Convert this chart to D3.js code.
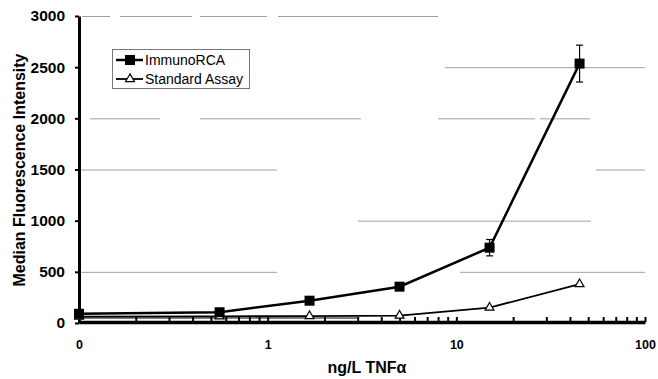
<!DOCTYPE html>
<html>
<head>
<meta charset="utf-8">
<script src="https://cdn.jsdelivr.net/npm/d3@7"></script>
<style>
  body { margin: 0; background: #fff; }
  svg { display: block; font-family: Arial, "Liberation Sans", sans-serif; }
</style>
</head>
<body>
<svg></svg>
<script>
(() => {
    // TNFα concentration (ng/L), 0 is drawn at the left edge of the log axis
    const concentrations = [0, 0.556, 1.667, 5, 15, 45];
    const immunoRCA = [90, 105, 218, 355, 736, 2535];
    const immunoErr = [0, 0, 0, 0, 80, 180];
    const standardAssay = [62, 65, 68, 72, 150, 380];
    const yTicks = [0, 500, 1000, 1500, 2000, 2500, 3000];
    const gridTicks = [500, 1000, 1500, 2000, 2500, 3000];
    const xLabels = ["0", "1", "10", "100"];
    const seriesNames = ["ImmunoRCA", "Standard Assay"];

    const width = 658;
    const height = 379;

    const xScale = d3.scaleLog()
        .domain([0.1, 100])
        .range([79, 645]);

    const yScale = d3.scaleLinear()
        .domain([0, 3000])
        .range([323, 16]);

    const xPos = c => xScale(c === 0 ? 0.1 : c);

    const svg = d3.select("svg")
        .attr("width", width)
        .attr("height", height);

    // grid lines, broken up like the scanned original (500 .. 3000)
    const gridDash = ["198 183 185 100", "0 279 233 200", "198 319 49 100",
        "0 11 70 40 161 77 97 5 50 200", "0 366 200 100", "0 3 28 10 72 8 67 11 160 300"];
    svg.append("g")
        .selectAll("line")
        .data(gridTicks)
        .enter()
        .append("line")
        .attr("x1", xScale(0.1))
        .attr("x2", xScale(100))
        .attr("y1", d => yScale(d) + 0.5)
        .attr("y2", d => yScale(d) + 0.5)
        .attr("stroke", "#a0a0a0")
        .attr("stroke-width", 1)
        .attr("stroke-dasharray", (d, i) => gridDash[i]);

    // y axis
    const yAxis = svg.append("g")
        .attr("transform", `translate(${xScale(0.1)},0)`)
        .call(d3.axisLeft(yScale)
            .tickValues(yTicks)
            .tickFormat(d3.format("d"))
            .tickSizeInner(4)
            .tickSizeOuter(0)
            .tickPadding(10));
    yAxis.select(".domain").attr("stroke-width", 3);
    yAxis.selectAll(".tick line").attr("stroke-width", 2);
    yAxis.selectAll("text")
        .attr("font-size", 15.5)
        .attr("font-weight", "bold")
        .attr("fill", "#000");

    // x axis, ticks pointing inward
    const isDecade = d => Math.abs(Math.log10(d) - Math.round(Math.log10(d))) < 1e-6;
    const xAxis = svg.append("g")
        .attr("transform", `translate(0,${yScale(0) - 1})`)
        .call(d3.axisBottom(xScale)
            .tickValues(xScale.ticks())
            .tickSizeInner(-5)
            .tickSizeOuter(0)
            .tickPadding(18)
            .tickFormat(d => isDecade(d) ? xLabels[Math.round(Math.log10(d)) + 1] : ""));
    xAxis.select(".domain").attr("stroke-width", 3.5);
    xAxis.selectAll(".tick line").attr("stroke-width", 2);
    xAxis.selectAll("text")
        .attr("font-size", 12.5)
        .attr("font-weight", "bold")
        .attr("fill", "#000");

    // doubled axis edge on the left part
    svg.append("line")
        .attr("x1", xScale(0.1))
        .attr("x2", xScale(3))
        .attr("y1", yScale(0) - 5)
        .attr("y2", yScale(0) - 5)
        .attr("stroke", "#000")
        .attr("stroke-width", 1.2);

    const line = d3.line()
        .x((d, i) => xPos(concentrations[i]))
        .y(d => yScale(d));

    // Standard Assay
    svg.append("path")
        .datum(standardAssay)
        .attr("fill", "none")
        .attr("stroke", "#000")
        .attr("stroke-width", 1.8)
        .attr("d", line);

    const tri = d3.symbol().type(d3.symbolTriangle).size(34);
    svg.append("g")
        .selectAll("path")
        .data(standardAssay)
        .enter()
        .append("path")
        .attr("d", tri)
        .attr("transform", (d, i) => `translate(${xPos(concentrations[i])},${yScale(d)})`)
        .attr("fill", "#fff")
        .attr("stroke", "#000")
        .attr("stroke-width", 1.2);

    // ImmunoRCA
    svg.append("path")
        .datum(immunoRCA)
        .attr("fill", "none")
        .attr("stroke", "#000")
        .attr("stroke-width", 2.5)
        .attr("d", line);

    const bars = svg.append("g")
        .selectAll("g")
        .data(immunoRCA.map((v, i) => ({ x: concentrations[i], v, e: immunoErr[i] })).filter(d => d.e > 0))
        .enter()
        .append("g")
        .attr("stroke", "#000")
        .attr("stroke-width", 1.2);
    bars.append("line")
        .attr("x1", d => xPos(d.x)).attr("x2", d => xPos(d.x))
        .attr("y1", d => yScale(d.v + d.e)).attr("y2", d => yScale(d.v - d.e));
    bars.append("line")
        .attr("x1", d => xPos(d.x) - 3.5).attr("x2", d => xPos(d.x) + 3.5)
        .attr("y1", d => yScale(d.v + d.e)).attr("y2", d => yScale(d.v + d.e));
    bars.append("line")
        .attr("x1", d => xPos(d.x) - 3.5).attr("x2", d => xPos(d.x) + 3.5)
        .attr("y1", d => yScale(d.v - d.e)).attr("y2", d => yScale(d.v - d.e));

    svg.append("g")
        .selectAll("rect")
        .data(immunoRCA)
        .enter()
        .append("rect")
        .attr("x", (d, i) => xPos(concentrations[i]) - 5)
        .attr("y", d => yScale(d) - 5)
        .attr("width", 10)
        .attr("height", 10)
        .attr("fill", "#000");

    // legend
    const legend = svg.append("g").attr("transform", "translate(112,49)");
    legend.append("rect")
        .attr("x", 0.5).attr("y", 0.5)
        .attr("width", 137).attr("height", 39)
        .attr("fill", "#fff")
        .attr("stroke", "#777")
        .attr("stroke-width", 1);
    seriesNames.forEach((name, i) => {
        const y = 11 + i * 19;
        legend.append("line")
            .attr("x1", 4).attr("x2", 31)
            .attr("y1", y).attr("y2", y)
            .attr("stroke", "#000")
            .attr("stroke-width", i === 0 ? 2.5 : 1.8);
        if (i === 0) {
            legend.append("rect")
                .attr("x", 13).attr("y", y - 5)
                .attr("width", 10).attr("height", 10)
                .attr("fill", "#000");
        } else {
            legend.append("path")
                .attr("d", tri)
                .attr("transform", `translate(18,${y})`)
                .attr("fill", "#fff")
                .attr("stroke", "#000")
                .attr("stroke-width", 1.2);
        }
        legend.append("text")
            .attr("x", 33)
            .attr("y", y)
            .attr("dy", "0.35em")
            .attr("font-size", 14)
            .attr("fill", "#000")
            .text(name);
    });

    // axis titles
    svg.append("text")
        .attr("transform", "translate(25,170) rotate(-90)")
        .attr("text-anchor", "middle")
        .attr("font-size", 16)
        .attr("font-weight", "bold")
        .text("Median Fluorescence Intensity");

    svg.append("text")
        .attr("x", 367)
        .attr("y", 373)
        .attr("text-anchor", "middle")
        .attr("font-size", 16)
        .attr("font-weight", "bold")
        .text("ng/L TNFα");
})();
</script>
</body>
</html>
